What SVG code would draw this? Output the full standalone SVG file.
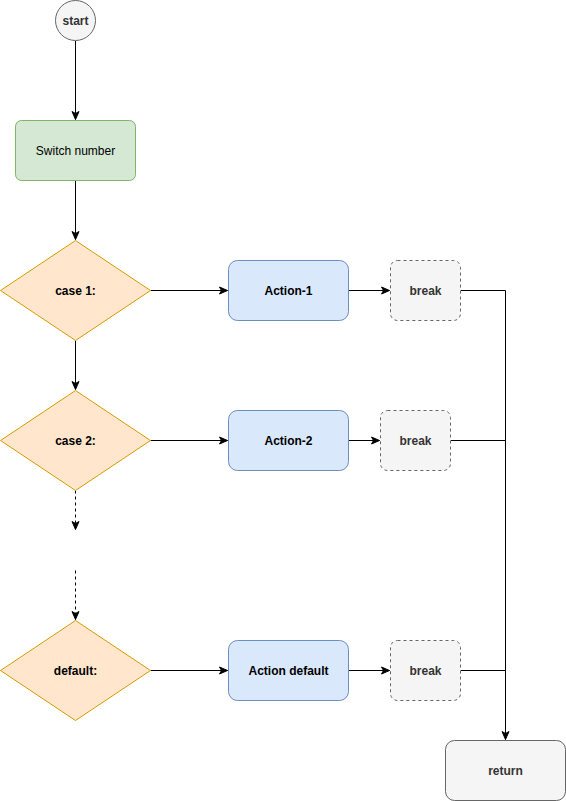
<svg xmlns="http://www.w3.org/2000/svg" width="566" height="801" viewBox="0 0 566 801">
<style>
text{font-family:"Liberation Sans",Arial,sans-serif;font-size:12px;text-anchor:middle;dominant-baseline:central}
.b{font-weight:bold}
.g{fill:#333333}
.e{fill:none;stroke:#000;stroke-width:1}
.d{stroke-dasharray:3 3}
.grey{fill:#f5f5f5;stroke:#666666}
</style>
<defs>
<marker id="a" markerUnits="userSpaceOnUse" markerWidth="10" markerHeight="10" viewBox="0 0 10 10" refX="9" refY="5" orient="auto">
<path d="M1,1.5 L9,5 L1,8.5 L3,5 Z" fill="#000" stroke="#000" stroke-width="1"/>
</marker>
</defs>
<g transform="translate(0.5,0.5)">
<g id="connectors">
<path class="e" d="M75,40 V119" marker-end="url(#a)"/>
<path class="e" d="M75,180 V239" marker-end="url(#a)"/>
<path class="e" d="M150,290 H227" marker-end="url(#a)"/>
<path class="e" d="M348,290 H389" marker-end="url(#a)"/>
<path class="e" d="M75,340 V389" marker-end="url(#a)"/>
<path class="e" d="M150,440 H227" marker-end="url(#a)"/>
<path class="e" d="M348,440 H379" marker-end="url(#a)"/>
<path class="e d" d="M75,490 V529" marker-end="url(#a)"/>
<path class="e d" d="M75,570 V619" marker-end="url(#a)"/>
<path class="e" d="M150,670 H227" marker-end="url(#a)"/>
<path class="e" d="M348,670 H389" marker-end="url(#a)"/>
<path class="e" d="M460,290 H505 V739" marker-end="url(#a)"/>
<path class="e" d="M450,440 H505"/>
<path class="e" d="M460,670 H505"/>
</g>
<g id="start">
<circle cx="75" cy="20" r="20" class="grey"/>
<text x="75" y="20.5" class="b g">start</text>
</g>
<g id="switch">
<rect x="15" y="120" width="120" height="60" rx="6" fill="#d5e8d4" stroke="#82b366"/>
<text x="75" y="150.5">Switch number</text>
</g>
<g id="case1">
<path d="M75,240 L150,290 L75,340 L0,290 Z" fill="#ffe6cc" stroke="#d79b00"/>
<text x="75" y="290.5" class="b">case 1:</text>
</g>
<g id="action1">
<rect x="228" y="260" width="120" height="60" rx="9" fill="#dae8fc" stroke="#6c8ebf"/>
<text x="288" y="290.5" class="b">Action-1</text>
</g>
<g id="break1">
<rect x="390" y="260" width="70" height="60" rx="7" class="grey d"/>
<text x="425" y="290.5" class="b g">break</text>
</g>
<g id="case2">
<path d="M75,390 L150,440 L75,490 L0,440 Z" fill="#ffe6cc" stroke="#d79b00"/>
<text x="75" y="440.5" class="b">case 2:</text>
</g>
<g id="action2">
<rect x="228" y="410" width="120" height="60" rx="9" fill="#dae8fc" stroke="#6c8ebf"/>
<text x="288" y="440.5" class="b">Action-2</text>
</g>
<g id="break2">
<rect x="380" y="410" width="70" height="60" rx="7" class="grey d"/>
<text x="415" y="440.5" class="b g">break</text>
</g>
<g id="default">
<path d="M75,620 L150,670 L75,720 L0,670 Z" fill="#ffe6cc" stroke="#d79b00"/>
<text x="75" y="670.5" class="b">default:</text>
</g>
<g id="actiondefault">
<rect x="228" y="640" width="120" height="60" rx="9" fill="#dae8fc" stroke="#6c8ebf"/>
<text x="288" y="670.5" class="b">Action default</text>
</g>
<g id="break3">
<rect x="390" y="640" width="70" height="60" rx="7" class="grey d"/>
<text x="425" y="670.5" class="b g">break</text>
</g>
<g id="return">
<rect x="445" y="740" width="120" height="60" rx="9" class="grey"/>
<text x="505" y="770.5" class="b g">return</text>
</g>
</g>
</svg>
